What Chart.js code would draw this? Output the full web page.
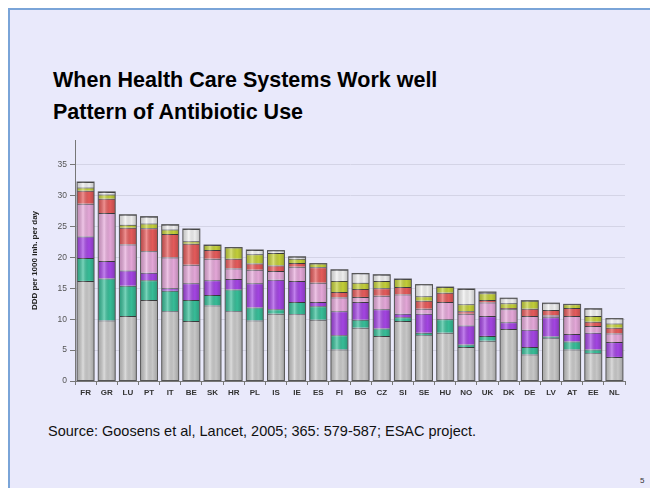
<!DOCTYPE html>
<html>
<head>
<meta charset="utf-8">
<script src="https://cdn.jsdelivr.net/npm/chart.js@4.4.0/dist/chart.umd.min.js"></script>
<style>
  html, body { margin: 0; padding: 0; background: #fff; }
  body { width: 650px; height: 488px; position: relative; overflow: hidden; font-family: "Liberation Sans", Arial, sans-serif; }
  #slide { position: absolute; left: 8px; top: 8px; width: 700px; height: 520px; background: #e9e9fb; border-left: 2px solid #7aa4d8; border-top: 2px solid #7aa4d8; }
  .title { position: absolute; left: 53px; font-weight: bold; font-size: 21.5px; color: #000; white-space: nowrap; }
  #source { position: absolute; left: 48px; top: 423px; font-size: 14.5px; color: #111; white-space: nowrap; }
  #pageno { position: absolute; left: 640px; top: 476px; font-size: 8px; color: #333; }
  #wrap { position: absolute; left: 0; top: 130px; width: 650px; height: 276px; }
</style>
</head>
<body>
<div id="slide"></div>
<div class="title" style="top:68px">When Health Care Systems Work well</div>
<div class="title" style="top:100px">Pattern of Antibiotic Use</div>
<div id="wrap"><canvas id="chart"></canvas></div>
<div id="source">Source: Goosens et al, Lancet, 2005; 365: 579-587; ESAC project.</div>
<div id="pageno">5</div>
<script>
// countries, ordered by total outpatient use
const countries = ["FR","GR","LU","PT","IT","BE","SK","HR","PL","IS","IE","ES","FI","BG","CZ","SI","SE","HU","NO","UK","DK","DE","LV","AT","EE","NL"];

// DDD per 1000 inhabitants per day, one array per stacked segment (bottom to top)
const greySeg   = [16.2, 9.8,10.5,13.1,11.3, 9.7,12.2,11.3, 9.8,10.9,10.8, 9.9, 5.1, 8.6, 7.3, 9.7, 7.4, 7.8, 5.5, 6.5, 8.4, 4.3, 6.9, 5.1, 4.5, 3.9];
const greenSeg  = [ 3.7, 6.8, 4.9, 3.2, 3.3, 3.4, 1.7, 3.5, 2.1, 0.7, 2.0, 2.2, 2.3, 1.3, 1.2, 0.6, 0.4, 2.2, 0.4, 0.8, 0.0, 1.2, 0.3, 1.3, 0.6, 0.0];
const purpleSeg = [ 3.5, 2.8, 2.5, 1.2, 0.4, 2.7, 2.4, 1.7, 3.9, 4.8, 3.4, 0.7, 3.9, 2.9, 3.1, 0.6, 3.1, 0.0, 3.1, 3.2, 1.1, 2.8, 3.1, 1.2, 2.7, 2.4];
const pinkSeg   = [ 5.3, 7.8, 4.2, 3.5, 5.0, 3.0, 3.5, 1.7, 2.2, 1.4, 2.3, 3.1, 2.2, 0.8, 2.2, 3.1, 0.8, 2.8, 1.9, 2.2, 2.1, 2.2, 0.3, 2.9, 1.1, 1.4];
const redSeg    = [ 2.1, 2.3, 2.7, 3.7, 3.8, 3.4, 1.4, 1.6, 1.0, 0.9, 0.6, 2.5, 0.9, 1.3, 1.2, 1.2, 1.3, 1.5, 0.4, 0.4, 0.2, 1.2, 0.9, 1.3, 0.7, 0.9];
const yellowSeg = [ 0.5, 0.7, 0.5, 0.8, 0.7, 0.4, 0.8, 1.8, 1.5, 2.0, 0.7, 0.6, 1.8, 1.0, 1.2, 1.3, 0.7, 0.9, 1.1, 1.1, 0.8, 1.3, 0.0, 0.6, 0.9, 0.7];
const whiteSeg  = [ 0.9, 0.4, 1.6, 1.1, 0.8, 2.0, 0.0, 0.0, 0.7, 0.4, 0.3, 0.0, 1.8, 1.5, 1.0, 0.0, 1.9, 0.0, 2.5, 0.2, 0.8, 0.0, 1.1, 0.0, 1.2, 0.8];

const yTicks = [0, 5, 10, 15, 20, 25, 30, 35];

const series = [
  {label: "Penicillins",   data: greySeg,   color: "#cbcbcb"},
  {label: "Cephalosporins",data: greenSeg,  color: "#38c09a"},
  {label: "Macrolides",    data: purpleSeg, color: "#a646e6"},
  {label: "Tetracyclines", data: pinkSeg,   color: "#e8aadc"},
  {label: "Quinolones",    data: redSeg,    color: "#e85c5c"},
  {label: "Sulfonamides",  data: yellowSeg, color: "#c6d23a"},
  {label: "Other",         data: whiteSeg,  color: "#f2f2f2"}
];

// cylinder-like shading over each stacked column
const shade = {
  id: "shade",
  afterDatasetsDraw(chart) {
    const ctx = chart.ctx;
    const base = chart.getDatasetMeta(0).data;
    const top = chart.getDatasetMeta(series.length - 1).data;
    base.forEach((bar, i) => {
      const w = bar.width, x0 = bar.x - w / 2;
      const yTop = top[i].y, yBot = bar.base;
      const g = ctx.createLinearGradient(x0, 0, x0 + w, 0);
      g.addColorStop(0, "rgba(0,0,0,0.16)");
      g.addColorStop(0.35, "rgba(255,255,255,0.32)");
      g.addColorStop(0.7, "rgba(0,0,0,0.02)");
      g.addColorStop(1, "rgba(0,0,0,0.2)");
      ctx.save();
      ctx.fillStyle = g;
      ctx.fillRect(x0, yTop, w, yBot - yTop);
      ctx.strokeStyle = "#555";
      ctx.lineWidth = 1;
      ctx.strokeRect(x0, yTop, w, yBot - yTop);
      ctx.restore();
    });
  }
};

new Chart(document.getElementById("chart"), {
  type: "bar",
  data: {
    labels: countries,
    datasets: series.map(s => ({
      label: s.label,
      data: s.data,
      backgroundColor: s.color,
      borderColor: "rgba(30,30,30,0.85)",
      borderWidth: {top: 1, bottom: 0, left: 0, right: 0},
      borderSkipped: false,
      barPercentage: 0.8,
      categoryPercentage: 1.0
    }))
  },
  options: {
    responsive: true,
    maintainAspectRatio: false,
    animation: false,
    layout: {padding: {left: 30, right: 25, top: 10, bottom: 0}},
    plugins: {legend: {display: false}, tooltip: {enabled: false}},
    scales: {
      x: {
        stacked: true,
        grid: {display: true, drawOnChartArea: false, offset: true, tickLength: 4, tickColor: "#777"},
        border: {color: "#777"},
        ticks: {color: "#333", font: {family: "Liberation Sans", size: 8, weight: "bold"}, padding: 3, maxRotation: 0, autoSkip: false},
        afterFit(scale) { scale.height = 25; }
      },
      y: {
        stacked: true,
        min: 0,
        max: 39,
        afterBuildTicks(scale) { scale.ticks = yTicks.map(v => ({value: v})); },
        grid: {color: "#d4d4e6", tickLength: 5, tickColor: "#777"},
        border: {color: "#777"},
        ticks: {color: "#555", font: {family: "Liberation Sans", size: 8.5}, padding: 3},
        title: {display: true, text: "DDD per 1000 inh. per day", color: "#222", font: {family: "Liberation Sans", size: 8, weight: "bold"}, padding: {top: 0, bottom: 6}},
        afterFit(scale) { scale.width = 45; }
      }
    }
  },
  plugins: [shade]
});
</script>
</body>
</html>
